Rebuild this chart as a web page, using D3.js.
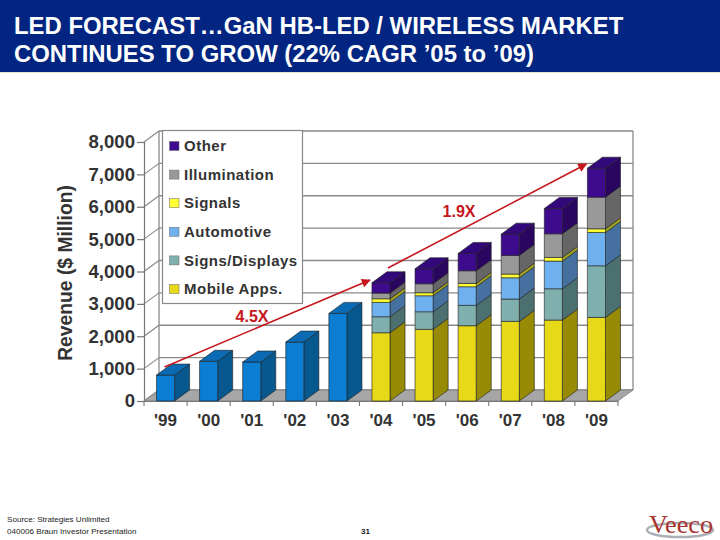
<!DOCTYPE html>
<html><head><meta charset="utf-8">
<script src="https://cdn.jsdelivr.net/npm/d3@7"></script>
<style>html,body{margin:0;padding:0;background:#fff}svg{display:block}text{font-family:"Liberation Sans",Arial,sans-serif}</style>
</head><body><div id="c"></div>
<script>
const categories=["'99","'00","'01","'02","'03","'04","'05","'06","'07","'08","'09"];
const totalBars=[800,1225,1205,1820,2706,0,0,0,0,0,0];
const mobileApps=[0,0,0,0,0,2109,2212,2325,2459,2500,2582];
const signsDisplays=[0,0,0,0,0,494,545,628,689,967,1595];
const automotive=[0,0,0,0,0,442,494,576,659,854,1029];
const signals=[0,0,0,0,0,113,93,103,113,113,113];
const illumination=[0,0,0,0,0,175,277,391,576,731,977];
const other=[0,0,0,0,0,319,463,535,658,782,895];
const yTicks=[0,1000,2000,3000,4000,5000,6000,7000,8000];
const legendLabels=["Other","Illumination","Signals","Automotive","Signs/Displays","Mobile Apps."];
const seriesKeys=["total","mobile","signs","auto","signals","illum","other"];
const seriesValues={total:totalBars,mobile:mobileApps,signs:signsDisplays,auto:automotive,signals:signals,illum:illumination,other:other};
const colors={total:["#0b7dd2","#07588f","#0a6bb4"],mobile:["#e7d818","#978a05","#b5a80c"],signs:["#7fb0ae","#4c6f70","#5f8a8a"],auto:["#6fb0ee","#46709f","#5a90c8"],signals:["#ffff33","#a3a322","#c8c82a"],illum:["#999999","#666666","#7a7a7a"],other:["#3e0a8e","#2a0660","#32087a"]};
const legendKeys=["other","illum","signals","auto","signs","mobile"];
const W=720,H=540,dx=15,dy=11;
const svg=d3.select("#c").append("svg").attr("width",W).attr("height",H);
svg.append("rect").attr("width",W).attr("height",H).attr("fill","#fff");
// header
svg.append("rect").attr("width",W).attr("height",72).attr("fill","#012580");
svg.append("rect").attr("y",72).attr("width",W).attr("height",1).attr("fill","#dfe3c8");
svg.selectAll("text.t").data(["LED FORECAST\u2026GaN HB-LED / WIRELESS MARKET","CONTINUES TO GROW (22% CAGR \u201905 to \u201909)"]).join("text")
 .attr("class","t").attr("x",14).attr("y",(d,i)=>34+i*27.5).attr("fill","#fff").attr("font-weight","bold").attr("font-size",23.9).text(d=>d);
const x=d3.scaleBand().domain(categories).range([144,618]).paddingInner(.58).paddingOuter(.29);
const y=d3.scaleLinear().domain([0,8000]).range([401,142]);
const G="#8a8a8a";
const g=svg.append("g");
// walls
g.append("path").attr("d",`M144,${y(8000)}L${144+dx},${y(8000)-dy}L633,${y(8000)-dy}L633,${y(0)-dy}L618,${y(0)}L144,${y(0)}Z`).attr("fill","#fff");
g.selectAll("line.h").data(yTicks).join("line").attr("x1",144+dx).attr("x2",633).attr("y1",d=>y(d)-dy).attr("y2",d=>y(d)-dy).attr("stroke",G).attr("stroke-width",1.3);
g.selectAll("line.d").data(yTicks).join("line").attr("x1",144).attr("x2",144+dx).attr("y1",d=>y(d)).attr("y2",d=>y(d)-dy).attr("stroke",G).attr("stroke-width",1.2);
g.append("line").attr("x1",144+dx).attr("x2",144+dx).attr("y1",y(8000)-dy).attr("y2",y(0)-dy).attr("stroke",G).attr("stroke-width",1.3);
g.append("line").attr("x1",633).attr("x2",633).attr("y1",y(8000)-dy).attr("y2",y(0)-dy).attr("stroke",G).attr("stroke-width",1.3);
// floor
g.append("path").attr("d",`M144,${y(0)}L618,${y(0)}L633,${y(0)-dy}L${144+dx},${y(0)-dy}Z`).attr("fill","#a6a6a6").attr("stroke","#777").attr("stroke-width",.7);
// axes
const ya=d3.axisLeft(y).tickValues(yTicks).tickFormat(d3.format(",")).tickSize(7).tickPadding(2);
const ag=svg.append("g").attr("transform","translate(144,0)").call(ya);
ag.selectAll("text").attr("font-size",18.6).attr("font-weight","bold").attr("fill","#333").style("font-family",'"Liberation Sans"');
ag.selectAll("line,path").attr("stroke","#777").attr("stroke-width",1.2);
const xa=d3.axisBottom(x).tickSize(0).tickPadding(13);
const xg=svg.append("g").attr("transform",`translate(0,${y(0)})`).call(xa);
xg.selectAll("text").attr("font-size",17).attr("font-weight","bold").attr("fill","#333").style("font-family",'"Liberation Sans"');
xg.select("path").attr("stroke","#777").attr("stroke-width",1.2);
xg.selectAll("line.b").data(d3.range(12)).join("line").attr("class","b").attr("x1",d=>144+d*x.step()).attr("x2",d=>144+d*x.step()).attr("y1",0).attr("y2",5).attr("stroke","#777").attr("stroke-width",1.1);
svg.append("text").attr("transform","translate(72,273) rotate(-90)").attr("text-anchor","middle").attr("font-size",19.3).attr("font-weight","bold").attr("fill","#333").text("Revenue ($ Million)");
// bars
const rows=categories.map((c,i)=>{const o={cat:c};seriesKeys.forEach(k=>o[k]=seriesValues[k][i]);return o});
const stacked=d3.stack().keys(seriesKeys)(rows);
const segs=[];
rows.forEach((r,i)=>{const list=stacked.filter(s=>r[s.key]>0);list.forEach((s,j)=>segs.push({cat:r.cat,key:s.key,y0:s[i][0],y1:s[i][1],top:j===list.length-1}))});
const bars=svg.append("g").attr("stroke","#1c1c1c").attr("stroke-width",.6).attr("stroke-linejoin","round");
segs.forEach(s=>{
 const L=x(s.cat),R=L+x.bandwidth(),a=y(s.y0),b=y(s.y1),c=colors[s.key];
 bars.append("path").attr("d",`M${R},${a}L${R+dx},${a-dy}L${R+dx},${b-dy}L${R},${b}Z`).attr("fill",c[1]);
 bars.append("rect").attr("x",L).attr("y",b).attr("width",x.bandwidth()).attr("height",a-b).attr("fill",c[0]);
 if(s.top)bars.append("path").attr("d",`M${L},${b}L${L+dx},${b-dy}L${R+dx},${b-dy}L${R},${b}Z`).attr("fill",c[2]);
});
// legend
svg.append("rect").attr("x",162.5).attr("y",130.5).attr("width",140).attr("height",173).attr("fill","#fff").attr("stroke","#888").attr("stroke-width",1.2);
const ly=d3.scalePoint().domain(legendLabels).range([146,289]);
const lg=svg.append("g");
legendLabels.forEach((l,i)=>{
 lg.append("rect").attr("x",169.5).attr("y",ly(l)-4.5).attr("width",9.5).attr("height",9).attr("fill",colors[legendKeys[i]][0]).attr("stroke","#666").attr("stroke-width",.5);
 lg.append("text").attr("x",184).attr("y",ly(l)+5.2).attr("font-size",15).attr("font-weight","bold").attr("letter-spacing",.5).attr("fill","#333").text(l);
});
// growth arrows (annotations): anchored on the data
const red="#c5161d";
svg.append("defs").append("marker").attr("id","ah").attr("viewBox","0 0 10 10").attr("refX",9).attr("refY",5).attr("markerWidth",11).attr("markerHeight",9).attr("markerUnits","userSpaceOnUse").attr("orient","auto").append("path").attr("d","M0,0L10,5L0,10Z").attr("fill",red);
const px=(c,o)=>x(c)+o;
const arrows=[[px("'99",8),y(0)-34,px("'04",-2),y(0)-121],[px("'04",16),y(0)-133,px("'09",-1),y(0)-237]];
arrows.forEach(a=>svg.append("line").attr("x1",a[0]).attr("y1",a[1]).attr("x2",a[2]).attr("y2",a[3]).attr("stroke",red).attr("stroke-width",1.6).attr("marker-end","url(#ah)"));
svg.append("text").attr("x",252).attr("y",322).attr("text-anchor","middle").attr("font-size",16).attr("font-weight","bold").attr("fill",red).text("4.5X");
svg.append("text").attr("x",459).attr("y",217).attr("text-anchor","middle").attr("font-size",16).attr("font-weight","bold").attr("fill",red).text("1.9X");
// footer
const ft=(t,xx,yy,o={})=>svg.append("text").attr("x",xx).attr("y",yy).attr("font-size",o.s||8.1).attr("font-weight",o.w||"normal").attr("fill",o.f||"#222").text(t);
ft("Source: Strategies Unlimited",7,522);
ft("040006 Braun Investor Presentation",7,534);
ft("31",361,534,{w:"bold"});
// logo
svg.append("ellipse").attr("cx",680).attr("cy",530).attr("rx",33).attr("ry",7).attr("fill","none").attr("stroke","#aab0b5").attr("stroke-width",2.5);
svg.append("text").attr("x",649).attr("y",533).attr("font-size",26).attr("textLength",64).attr("lengthAdjust","spacingAndGlyphs").attr("fill","#a8342f").style("font-family",'"Liberation Serif"').text("Veeco");
</script></body></html>
